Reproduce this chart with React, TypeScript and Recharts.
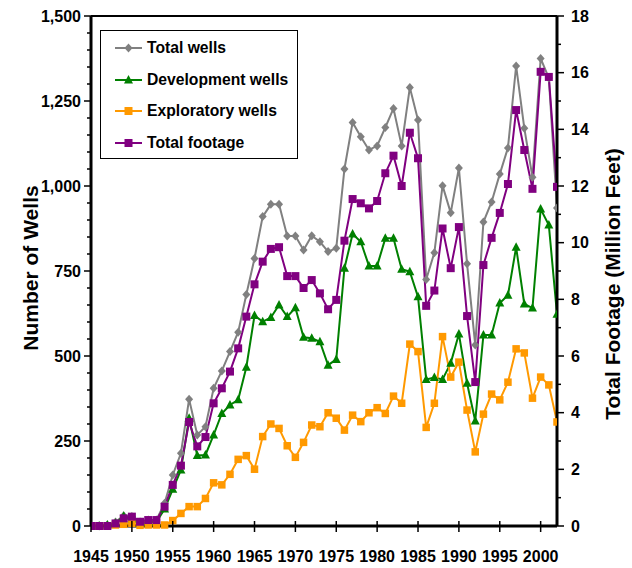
import React from 'react';
import { LineChart, Line, XAxis, YAxis, Legend, ReferenceLine } from 'recharts';

const years = [
  1945, 1946, 1947, 1948, 1949, 1950, 1951, 1952, 1953, 1954,
  1955, 1956, 1957, 1958, 1959, 1960, 1961, 1962, 1963, 1964,
  1965, 1966, 1967, 1968, 1969, 1970, 1971, 1972, 1973, 1974,
  1975, 1976, 1977, 1978, 1979, 1980, 1981, 1982, 1983, 1984,
  1985, 1986, 1987, 1988, 1989, 1990, 1991, 1992, 1993, 1994,
  1995, 1996, 1997, 1998, 1999, 2000, 2001, 2002,
];

const totalWells = [
  0, 0, 3, 12, 30, 28, 12, 18, 18, 67,
  150, 214, 373, 268, 292, 405, 456, 513, 570, 681,
  787, 910, 946, 946, 853, 853, 812, 854, 836, 807,
  817, 1050, 1187, 1145, 1106, 1118, 1172, 1228, 1118, 1290,
  1194, 725, 804, 1001, 921, 1053, 771, 532, 894, 953,
  1035, 1112, 1353, 1170, 1026, 1375, 1318, 935,
];

const developmentWells = [
  0, 0, 3, 8, 29, 20, 8, 12, 12, 50,
  108, 165, 317, 207, 209, 268, 331, 356, 371, 467,
  619, 601, 613, 650, 616, 642, 555, 552, 542, 473,
  490, 758, 859, 836, 765, 765, 846, 846, 755, 748,
  674, 431, 437, 431, 479, 565, 420, 309, 562, 562,
  656, 679, 820, 653, 641, 932, 885, 623,
];

const exploratoryWells = [
  0, 0, 0, 3, 5, 8, 2, 3, 3, 3,
  16, 37, 57, 57, 81, 127, 121, 152, 196, 207,
  167, 263, 300, 287, 236, 202, 246, 297, 292, 333,
  317, 282, 326, 307, 333, 348, 331, 382, 361, 535,
  513, 290, 361, 557, 438, 482, 341, 218, 329, 388,
  371, 423, 521, 509, 376, 438, 415, 306,
];

// million feet
const totalFootage = [
  0, 0, 0, 0.09, 0.27, 0.33, 0.15, 0.21, 0.21, 0.68,
  1.45, 2.13, 3.67, 2.81, 3.14, 4.33, 4.86, 5.45, 6.27, 7.39,
  8.53, 9.33, 9.78, 9.84, 8.82, 8.82, 8.4, 8.68, 8.21, 7.65,
  7.98, 10.07, 11.54, 11.39, 11.21, 11.47, 12.45, 13.07, 12.0, 13.88,
  12.98, 7.77, 8.31, 10.5, 9.1, 10.55, 7.41, 5.08, 9.21, 10.17,
  11.05, 12.07, 14.68, 13.27, 11.9, 16.03, 15.85, 11.97,
];

const xTicks = [1945, 1950, 1955, 1960, 1965, 1970, 1975, 1980, 1985, 1990, 1995, 2000];
const leftTicks = [
  0, 50, 100, 150, 200, 250, 300, 350, 400, 450, 500, 550, 600, 650, 700, 750,
  800, 850, 900, 950, 1000, 1050, 1100, 1150, 1200, 1250, 1300, 1350, 1400, 1450, 1500,
];
const rightTicks = [0, 1, 2, 3, 4, 5, 6, 7, 8, 9, 10, 11, 12, 13, 14, 15, 16, 17, 18];

const data = years.map((year, i) => ({
  year,
  total: totalWells[i],
  development: developmentWells[i],
  exploratory: exploratoryWells[i],
  footage: totalFootage[i],
}));

const FONT = '"Liberation Sans", Arial, sans-serif';
const GRAY = '#808080';
const GREEN = '#008000';
const ORANGE = '#FF9900';
const PURPLE = '#800080';

// marker shapes
const diamond = (cx: number, cy: number, color: string, key?: any) => (
  <path key={key} d={`M${cx},${cy - 4.5}L${cx + 4},${cy}L${cx},${cy + 4.5}L${cx - 4},${cy}Z`} fill={color} />
);
const triangle = (cx: number, cy: number, color: string, key?: any) => (
  <path key={key} d={`M${cx},${cy - 5}L${cx + 4.5},${cy + 3.5}L${cx - 4.5},${cy + 3.5}Z`} fill={color} />
);
const square = (cx: number, cy: number, color: string, s: number, key?: any) => (
  <rect key={key} x={cx - s / 2} y={cy - s / 2} width={s} height={s} fill={color} />
);

const LeftTick = (props: any) => {
  const { x, y, payload } = props;
  const major = payload.value % 250 === 0;
  return (
    <g>
      <line x1={x} x2={x - (major ? 7 : 4)} y1={y} y2={y} stroke="#000" strokeWidth={1.5} />
      {major && (
        <text x={x - 10} y={y} textAnchor="end" dominantBaseline="central"
          fontFamily={FONT} fontWeight="bold" fontSize={16} fill="#000">
          {payload.value.toLocaleString('en-US')}
        </text>
      )}
    </g>
  );
};

const RightTick = (props: any) => {
  const { x, y, payload } = props;
  const major = payload.value % 2 === 0;
  return (
    <g>
      <line x1={x} x2={x + (major ? 7 : 4)} y1={y} y2={y} stroke="#000" strokeWidth={1.5} />
      {major && (
        <text x={x + 14} y={y} textAnchor="start" dominantBaseline="central"
          fontFamily={FONT} fontWeight="bold" fontSize={16} fill="#000">
          {payload.value}
        </text>
      )}
    </g>
  );
};

const BottomTick = (props: any) => {
  const { x, y, payload } = props;
  return (
    <g>
      <line x1={x} x2={x} y1={y - 5} y2={y + 6} stroke="#000" strokeWidth={1.5} />
      <text x={x} y={y + 30} textAnchor="middle" dominantBaseline="central"
        fontFamily={FONT} fontWeight="bold" fontSize={16} fill="#000">
        {payload.value}
      </text>
    </g>
  );
};

// axis titles are placed by their own centre, not by recharts' label viewBox
const AxisTitle = ({ tx, ty, text }: any) => (
  <text x={tx} y={ty} transform={`rotate(-90 ${tx} ${ty})`} textAnchor="middle" dominantBaseline="central"
    fontFamily={FONT} fontWeight="bold" fontSize={21} fill="#000">
    {text}
  </text>
);

const legendItems = [
  { label: 'Total wells', color: GRAY, shape: 'diamond' },
  { label: 'Development wells', color: GREEN, shape: 'triangle' },
  { label: 'Exploratory wells', color: ORANGE, shape: 'square' },
  { label: 'Total footage', color: PURPLE, shape: 'square' },
];

const renderLegend = () => (
  <div style={{ width: 196, height: 126, border: '1px solid #000', background: '#fff', boxSizing: 'content-box', paddingTop: 1 }}>
    {legendItems.map((item) => (
      <div key={item.label} style={{ display: 'flex', alignItems: 'center', height: 31.7 }}>
        <svg width={46} height={14} style={{ flex: 'none' }}>
          <line x1={14} x2={41} y1={7} y2={7} stroke={item.color} strokeWidth={2} />
          {item.shape === 'diamond' && diamond(27.5, 7, item.color)}
          {item.shape === 'triangle' && triangle(27.5, 7, item.color)}
          {item.shape === 'square' && square(27.5, 7, item.color, 8)}
        </svg>
        <span style={{ fontFamily: FONT, fontWeight: 'bold', fontSize: 15.7, color: '#000', whiteSpace: 'nowrap' }}>
          {item.label}
        </span>
      </div>
    ))}
  </div>
);

export default function App() {
  return (
    <div style={{ position: 'absolute', left: 0, top: 0, width: 632, height: 568, background: '#fff' }}>
      <LineChart width={632} height={568} data={data} margin={{ top: 16, right: 0, bottom: 0, left: 0 }}>
        <XAxis
          dataKey="year"
          type="number"
          domain={[1945, 2002]}
          ticks={xTicks}
          height={42}
          tickSize={0}
          tickMargin={0}
          tickLine={false}
          tick={<BottomTick />}
          axisLine={{ stroke: '#000', strokeWidth: 3 }}
          allowDataOverflow
        />
        <YAxis
          yAxisId="left"
          domain={[0, 1500]}
          ticks={leftTicks}
          width={91}
          tickSize={0}
          tickMargin={0}
          tickLine={false}
          tick={<LeftTick />}
          interval={0}
          axisLine={{ stroke: '#000', strokeWidth: 3 }}
          label={<AxisTitle tx={30} ty={268} text="Number of Wells" />}
        />
        <YAxis
          yAxisId="right"
          orientation="right"
          domain={[0, 18]}
          ticks={rightTicks}
          width={75}
          tickSize={0}
          tickMargin={0}
          tickLine={false}
          tick={<RightTick />}
          interval={0}
          axisLine={{ stroke: '#000', strokeWidth: 3 }}
          label={<AxisTitle tx={612} ty={284} text="Total Footage (Million Feet)" />}
        />
        <ReferenceLine yAxisId="left" y={1500} stroke="#000" strokeWidth={2} />
        <Legend
          layout="vertical"
          align="center"
          verticalAlign="middle"
          content={renderLegend}
          wrapperStyle={{ position: 'absolute', left: 100, top: 30, width: 198, height: 128 }}
        />
        <Line
          yAxisId="left"
          dataKey="total"
          stroke={GRAY}
          strokeWidth={2}
          dot={(p: any) => diamond(p.cx, p.cy, GRAY, p.index)}
          activeDot={false}
          isAnimationActive={false}
        />
        <Line
          yAxisId="left"
          dataKey="development"
          stroke={GREEN}
          strokeWidth={2}
          dot={(p: any) => triangle(p.cx, p.cy, GREEN, p.index)}
          activeDot={false}
          isAnimationActive={false}
        />
        <Line
          yAxisId="left"
          dataKey="exploratory"
          stroke={ORANGE}
          strokeWidth={2}
          dot={(p: any) => square(p.cx, p.cy, ORANGE, 7.5, p.index)}
          activeDot={false}
          isAnimationActive={false}
        />
        <Line
          yAxisId="right"
          dataKey="footage"
          stroke={PURPLE}
          strokeWidth={2}
          dot={(p: any) => square(p.cx, p.cy, PURPLE, 8, p.index)}
          activeDot={false}
          isAnimationActive={false}
        />
      </LineChart>
    </div>
  );
}
